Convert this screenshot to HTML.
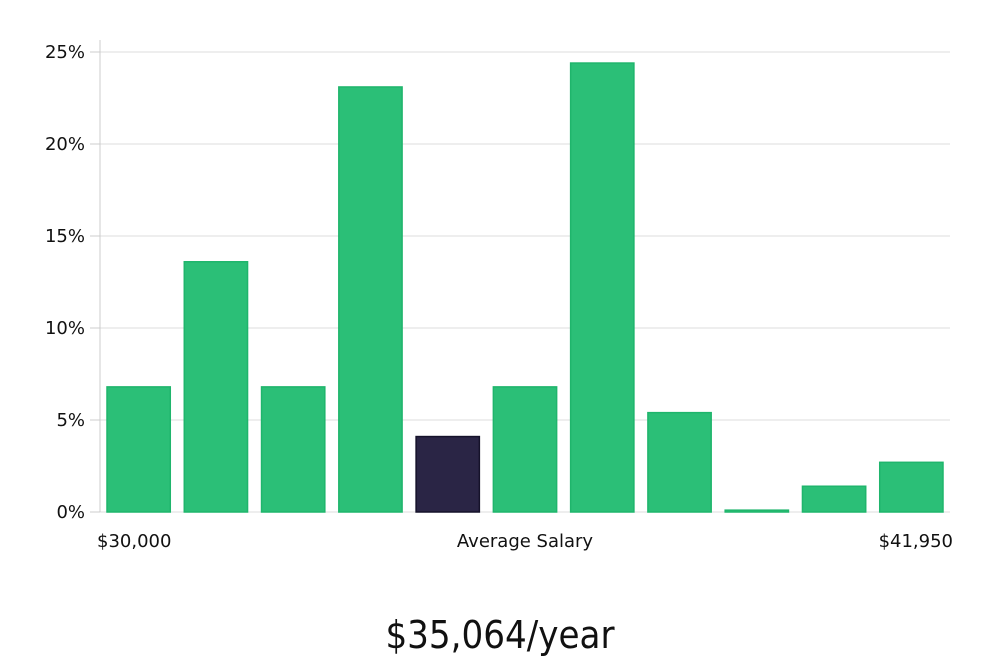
<!DOCTYPE html>
<html><head><meta charset="utf-8"><style>
html,body{margin:0;padding:0;background:#fff;width:1000px;height:660px;overflow:hidden}
svg text{font-family:"DejaVu Sans","Liberation Sans",sans-serif;fill:#111}
</style></head><body>
<svg id="chart" width="1000" height="660" viewBox="0 0 1000 660" xmlns="http://www.w3.org/2000/svg">
<g id="grid"></g>
<g id="yaxis"></g>
<g id="bars"></g>
<text x="97" y="547" font-size="18">$30,000</text>
<text x="525" y="547" font-size="18" text-anchor="middle">Average Salary</text>
<text x="953" y="547" font-size="18" text-anchor="end">$41,950</text>
<text x="500" y="648" font-size="38" text-anchor="middle" style="font-family:'DejaVu Sans Condensed','Liberation Sans Narrow',sans-serif;font-weight:300">$35,064/year</text>
</svg>
<script>
const values = [6.8, 13.6, 6.8, 23.1, 4.1, 6.8, 24.4, 5.4, 0.1, 1.4, 2.7];
const highlightIndex = [4];
const yTicks = [0, 5, 10, 15, 20, 25];
const yTickLabels = ["0%", "5%", "10%", "15%", "20%", "25%"];

const NS = "http://www.w3.org/2000/svg";
const left = 100, right = 950, y0 = 512, pxPer = 18.4;
const band = (right - left) / values.length;
const yScale = v => y0 - v * pxPer;
const xScale = i => left + i * band;
function mk(tag, attrs, parent){const e=document.createElementNS(NS,tag);for(const k in attrs)e.setAttribute(k,attrs[k]);parent.appendChild(e);return e;}
const grid=document.getElementById('grid'), yaxis=document.getElementById('yaxis'), bars=document.getElementById('bars');
yTicks.forEach((t,i)=>{
  const y=yScale(t);
  const gl=mk('line',{x1:left,x2:right,y1:y,y2:y,stroke:'#dcdcdc','stroke-width':1},grid);
  
  
  const tk=mk('line',{x1:90,x2:left,y1:y,y2:y,stroke:'#ccc','stroke-width':1},yaxis);
  
  
  const tx=mk('text',{x:85,y:y+6,'font-size':18,'text-anchor':'end'},yaxis);
  tx.textContent=yTickLabels[i];
  
  
});
const ax=mk('line',{x1:left,x2:left,y1:40,y2:y0,stroke:'#ccc','stroke-width':1},yaxis);


values.forEach((v,i)=>{
  const hi=highlightIndex.includes(i);
  const x=xScale(i)+7, w=band-14, y=yScale(v);
  const r=mk('rect',{x:x,y:y,width:w,height:Math.max(y0-y,1),fill:hi?'#2a2545':'#2bbf77',stroke:hi?'#15122a':'#1fb56c','stroke-width':1.5},bars);
  
  
});
</script>
</body></html>
